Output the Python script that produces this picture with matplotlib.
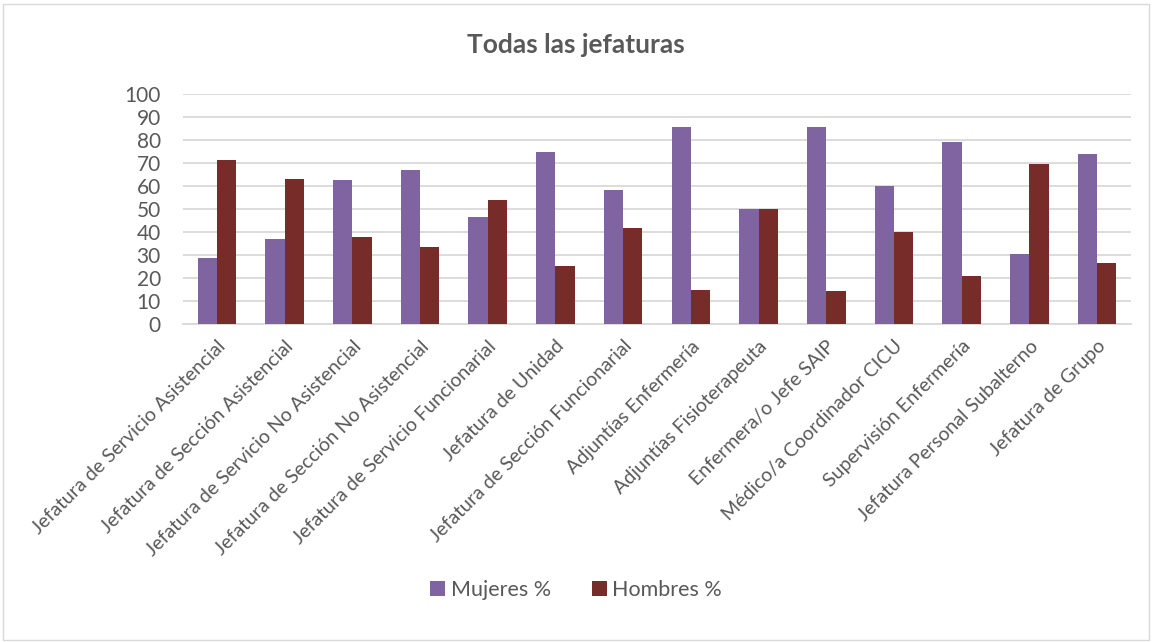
import matplotlib.pyplot as plt
import numpy as np
from matplotlib.patches import Rectangle

categories = [
    "Jefatura de Servicio Asistencial",
    "Jefatura de Sección Asistencial",
    "Jefatura de Servicio No Asistencial",
    "Jefatura de Sección No Asistencial",
    "Jefatura de Servicio Funcionarial",
    "Jefatura de Unidad",
    "Jefatura de Sección Funcionarial",
    "Adjuntías Enfermería",
    "Adjuntías Fisioterapeuta",
    "Enfermera/o Jefe SAIP",
    "Médico/a Coordinador CICU",
    "Supervisión Enfermería",
    "Jefatura Personal Subalterno",
    "Jefatura de Grupo",
]
mujeres = [28.6, 37.0, 62.5, 66.7, 46.4, 74.8, 58.3, 85.6, 50.0, 85.7, 60.0, 79.3, 30.5, 73.7]
hombres = [71.4, 63.0, 37.5, 33.3, 53.6, 25.2, 41.7, 14.4, 50.0, 14.3, 40.0, 20.7, 69.5, 26.3]

plt.rcParams["font.family"] = ["Lato", "DejaVu Sans"]
text_color = "#595959"
purple = "#8064a2"
maroon = "#772c2a"

fig = plt.figure(figsize=(11.52, 6.42), dpi=100)
ax = fig.add_axes([183 / 1152, 1 - 323.5 / 642, (1131 - 183) / 1152, (323.5 - 94) / 642])

x = np.arange(len(categories))
w = 0.285
ax.bar(x - w / 2, mujeres, w, color=purple, label="Mujeres %", zorder=3)
ax.bar(x + w / 2, hombres, w, color=maroon, label="Hombres %", zorder=3)

ax.set_xlim(-0.5, len(categories) - 0.5)
ax.set_ylim(0, 100)
ax.set_yticks(range(0, 101, 10))
ax.grid(axis="y", color="#d9d9d9", linewidth=1.3, zorder=0)
for s in ["top", "right", "left"]:
    ax.spines[s].set_visible(False)
ax.spines["bottom"].set_color("#d9d9d9")
ax.spines["bottom"].set_linewidth(1.3)
ax.tick_params(axis="y", length=0, labelsize=15, colors=text_color, pad=16)
ax.tick_params(axis="x", length=0, labelsize=14, colors=text_color, pad=10)
ax.set_xticks(x)
ax.set_xticklabels(categories, rotation=45, ha="right", rotation_mode="anchor")

fig.text(0.5, 1 - 45 / 642, "Todas las jefaturas", ha="center", va="center",
         fontsize=19, fontweight="bold", color=text_color)

leg = fig.legend(loc="center", bbox_to_anchor=(0.5, 1 - 590 / 642), ncol=2,
                 frameon=False, fontsize=15.5, handlelength=0.7, handleheight=0.7,
                 columnspacing=1.9, handletextpad=0.25)
for t in leg.get_texts():
    t.set_color(text_color)

fig.patches.append(Rectangle((3 / 1152, 2 / 642), 1146 / 1152, 636 / 642,
                             transform=fig.transFigure, fill=False,
                             edgecolor="#d9d9d9", linewidth=1))

fig.savefig("out.png", dpi=100)
